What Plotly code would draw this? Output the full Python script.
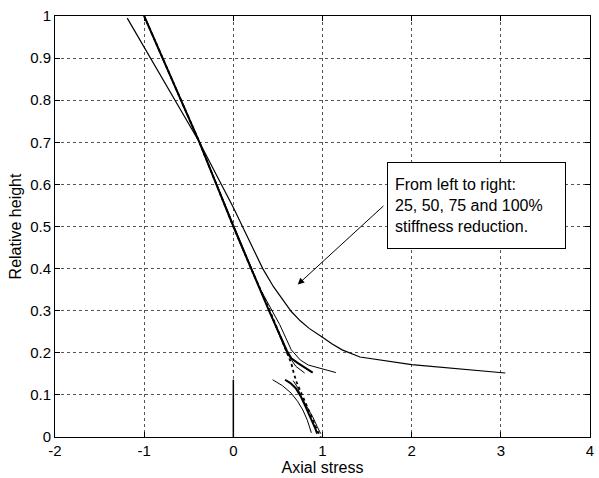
import plotly.graph_objects as go

# ---- data ----
# reference (dotted) curve
ref_x = [-1.0, -0.38, 0.0, 0.2, 0.41, 0.6, 0.65, 0.68, 0.71, 0.75, 0.80, 0.85, 0.90, 0.95, 0.98]
ref_y = [1.0, 0.70, 0.50, 0.40, 0.30, 0.20, 0.175, 0.15, 0.13, 0.11, 0.085, 0.06, 0.035, 0.012, 0.0]

# 25 % stiffness reduction (thin)
r25_up_x = [-1.0, -0.38, 0.0, 0.4, 0.6, 0.70, 0.80]
r25_up_y = [1.0, 0.70, 0.50, 0.30, 0.20, 0.168, 0.152]
r25_lo_x = [0.67, 0.72, 0.76, 0.83, 0.89, 0.94, 0.98]
r25_lo_y = [0.134, 0.118, 0.096, 0.070, 0.048, 0.025, 0.008]

# 50 % stiffness reduction (thick)
r50_up_x = [-1.0, -0.38, 0.0, 0.4, 0.6, 0.65, 0.72, 0.81, 0.89]
r50_up_y = [1.0, 0.70, 0.50, 0.30, 0.205, 0.187, 0.176, 0.164, 0.153]
r50_lo_x = [0.58, 0.64, 0.70, 0.76, 0.81, 0.87, 0.92, 0.94]
r50_lo_y = [0.136, 0.128, 0.116, 0.095, 0.072, 0.045, 0.020, 0.008]

# 75 % stiffness reduction (thin)
r75_up_x = [-1.0, -0.38, 0.0, 0.3, 0.52, 0.65, 0.75, 0.84, 1.15]
r75_up_y = [1.0, 0.70, 0.505, 0.352, 0.267, 0.207, 0.183, 0.171, 0.153]
r75_lo_x = [0.44, 0.55, 0.65, 0.72, 0.78, 0.83, 0.875]
r75_lo_y = [0.136, 0.122, 0.104, 0.085, 0.064, 0.040, 0.010]

# 100 % stiffness reduction (thin)
r100_up_x = [-1.19, -0.38, 0.0, 0.33, 0.45, 0.55, 0.65, 0.75, 0.85, 1.0, 1.1, 1.22, 1.42, 2.0, 3.05]
r100_up_y = [0.995, 0.70, 0.545, 0.40, 0.357, 0.326, 0.298, 0.276, 0.258, 0.237, 0.222, 0.207, 0.19, 0.172, 0.152]
r100_lo_x = [0.0, 0.0]
r100_lo_y = [0.0, 0.136]

x_ticks = [-2, -1, 0, 1, 2, 3, 4]
y_ticks = [0, 0.1, 0.2, 0.3, 0.4, 0.5, 0.6, 0.7, 0.8, 0.9, 1]
note_text = "From left to right:<br>25, 50, 75 and 100%<br>stiffness reduction."

FONT = "Liberation Sans, Arial, Helvetica, sans-serif"

fig = go.Figure()

def add(x, y, width=1.0, dash="solid"):
    fig.add_trace(go.Scatter(x=x, y=y, mode="lines",
                             line=dict(color="black", width=width, dash=dash),
                             showlegend=False, hoverinfo="skip"))

add(ref_x, ref_y, width=1.8, dash="dot")
add(r25_up_x, r25_up_y, 1.0)
add(r25_lo_x, r25_lo_y, 1.0)
add(r50_up_x, r50_up_y, 2.0)
add(r50_lo_x, r50_lo_y, 2.0)
add(r75_up_x, r75_up_y, 1.0)
add(r75_lo_x, r75_lo_y, 1.0)
add(r100_up_x, r100_up_y, 1.2)
add(r100_lo_x, r100_lo_y, 1.5)

axis_common = dict(
    showline=True, linecolor="black", linewidth=1, mirror="ticks",
    ticks="inside", ticklen=5, tickcolor="black", tickwidth=1,
    showgrid=True, gridcolor="#555", gridwidth=1, griddash="dot",
    zeroline=False, tickfont=dict(family=FONT, size=15, color="black"),
)

fig.update_xaxes(range=[-2, 4], tickvals=x_ticks, ticktext=[str(v) for v in x_ticks],
                 title=dict(text="Axial stress", font=dict(family=FONT, size=16, color="black"), standoff=3),
                 **axis_common)
fig.update_yaxes(range=[0, 1], tickvals=y_ticks, ticktext=[("%g" % v) for v in y_ticks],
                 title=dict(text="Relative height", font=dict(family=FONT, size=16, color="black"), standoff=4),
                 **axis_common)

# arrow
fig.add_annotation(x=0.722, y=0.362, ax=1.70, ay=0.552, xref="x", yref="y",
                   axref="x", ayref="y", text="", showarrow=True,
                   arrowhead=2, arrowsize=1.3, arrowwidth=1, arrowcolor="black")
# text box
fig.add_annotation(x=2.73, y=0.551, xref="x", yref="y", text=note_text, showarrow=False,
                   align="left", xanchor="center", yanchor="middle",
                   width=163, height=71, borderpad=7, bordercolor="black", borderwidth=1,
                   bgcolor="white", font=dict(family=FONT, size=16, color="black"))

fig.update_layout(width=599, height=478, margin=dict(l=55, r=5, t=16, b=41),
                  plot_bgcolor="white", paper_bgcolor="white", showlegend=False)

fig.write_html("out.html")
